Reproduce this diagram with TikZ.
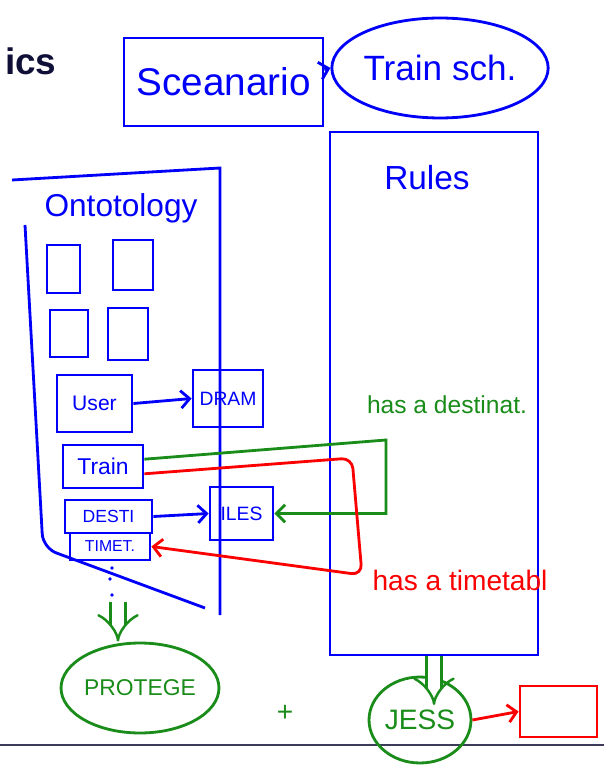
\documentclass[tikz,border=0pt]{standalone}
\usepackage{fontspec}
\setmainfont{Liberation Sans}
\usetikzlibrary{shapes.geometric,arrows.meta,positioning}
\definecolor{pen}{RGB}{0,0,250}
\definecolor{gpen}{RGB}{25,140,25}
\definecolor{rpen}{RGB}{250,0,0}
\definecolor{navy}{RGB}{15,15,55}
\definecolor{sepline}{RGB}{60,60,90}
\newcommand{\fsz}[1]{\fontsize{#1}{#1}\selectfont}
\tikzstyle{box} = [rectangle, draw=pen, line width=1.6pt, inner sep=0pt]
\tikzstyle{oval} = [ellipse, line width=1.6pt, inner sep=0pt]
\tikzstyle{arr} = [line width=1.6pt, -{Straight Barb[length=5pt,width=10pt]}]
\tikzstyle{dbl} = [line width=1.4pt, double, double distance=7pt, -{Implies}]

\begin{document}
\begin{tikzpicture}[x=0.02cm,y=-0.02cm]
\useasboundingbox (0,0) rectangle (604,766);
\tikzstyle{t} = [text=pen, inner sep=0pt]
% slide title and bottom rule
\node[anchor=base west, text=navy, font=\bfseries\fsz{21}] (title) at (-1,75) {ics};
\draw[draw=sepline, line width=1.2pt] (0,745) -- (604,745);

% top row
\node[box, minimum width=3.98cm, minimum height=1.76cm, t, font=\fsz{22}] (scen) at (223.5,82) {Sceanario};
\node[oval, draw=pen, minimum width=3.44cm, minimum height=2cm, t, font=\fsz{20}] (trainsch) at (440,68) {Train sch.};
\draw[arr, pen] (scen.7) -- (trainsch.west);

% ontology side
\draw[pen, line width=1.6pt] (12,180) -- (220,168) -- (220,615);
\draw[pen, line width=1.6pt, rounded corners=8pt] (25,225) -- (43,548) -- (205,608);
\node[t, font=\fsz{18}] (onto) at (121,208) {Ontotology};
\foreach \n/\x/\y/\w/\h in {1/63.5/269/0.66/0.96, 2/133/265/0.8/1.0, 3/69/333.5/0.76/0.94, 4/128/334/0.8/1.04}
  \node[box, minimum width=\w cm, minimum height=\h cm] (s\n) at (\x,\y) {};
\node[box, minimum width=1.5cm, minimum height=1.14cm, t, font=\fsz{12}] (user) at (94.5,403.5) {User};
\node[box, minimum width=1.4cm, minimum height=1.14cm, t, font=\fsz{11}] (dram) at (228,398.5) {DRAM};
\node[box, minimum width=1.6cm, minimum height=0.86cm, t, font=\fsz{13}] (train) at (103,466.5) {Train};
\node[box, minimum width=1.74cm, minimum height=0.66cm, t, font=\fsz{10}] (desti) at (108.5,516.5) {DESTI};
\node[box, minimum width=1.6cm, minimum height=0.54cm, t, font=\fsz{9}] (timet) at (110,546.5) {TIMET.};
\node[box, minimum width=1.26cm, minimum height=1.06cm, t, font=\fsz{11}] (iles) at (241.5,513.5) {ILES};
\foreach \n/\x/\y in {1/112/568, 2/110/579, 3/112/595}
  \node[circle, fill=pen, inner sep=0.8pt] (dot\n) at (\x,\y) {};
\coordinate (ontobot) at (118,602);
\draw[arr, pen] (user.east) -- (dram.west);
\draw[arr, pen] (desti.east) -- (iles.west);

% rules side
\node[box, minimum width=4.16cm, minimum height=10.46cm] (rules) at (434,393.5) {};
\node[t, font=\fsz{19}] (rulestxt) at (427,178) {Rules};
\node[text=gpen, font=\fsz{14}] (dest) at (447,405) {has a destinat.};
\node[text=rpen, font=\fsz{16}] (tt) at (460,580) {has a timetabl};
\draw[arr, gpen] (train.10) -- (386,440) |- (iles.east);
\draw[arr, rpen, rounded corners=6pt] (train.-10) -- (352,458) -- (362,575) -- (timet.east);

% tools
\node[oval, draw=gpen, minimum width=3.04cm, minimum height=1.8cm, text=gpen, font=\fsz{13}] (protege) at (140,688) {PROTEGE};
\node[text=gpen, font=\fsz{16}] (plus) at (285,713) {+};
\node[oval, draw=gpen, minimum width=2.04cm, minimum height=1.72cm, text=gpen, font=\fsz{16}] (jess) at (420,720) {JESS};
\node[box, draw=rpen, minimum width=1.54cm, minimum height=1.02cm] (out) at (558.5,711.5) {};
\draw[dbl, gpen] (ontobot) -- (ontobot |- protege.north);
\draw[dbl, gpen, shorten >=0.3cm] (rules.south) -- (rules.south |- jess.center);
\draw[arr, rpen] (jess.east) -- (out.west);
\end{tikzpicture}
\end{document}
